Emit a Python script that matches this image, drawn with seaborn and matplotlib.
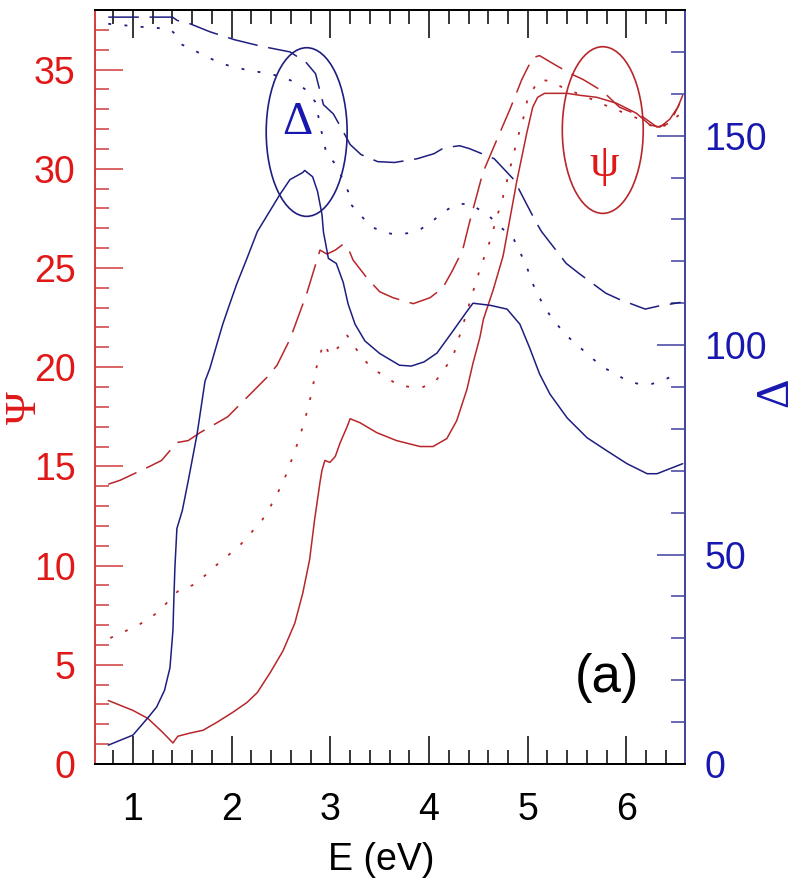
import matplotlib
matplotlib.use("Agg")
import matplotlib.pyplot as plt
from matplotlib.patches import Ellipse
from matplotlib.ticker import MultipleLocator
import seaborn as sns

# ---------------- data ----------------
# Psi (left axis, red)
psi_solid_x = [0.75, 1.0, 1.15, 1.3, 1.405, 1.455, 1.58, 1.71, 1.85, 2.01, 2.155, 2.26, 2.39, 2.52,
               2.64, 2.72, 2.79, 2.84, 2.895, 2.915, 2.945, 2.995, 3.05, 3.1, 3.17, 3.2, 3.3, 3.47,
               3.67, 3.91, 4.04, 4.18, 4.28, 4.385, 4.445, 4.515, 4.55, 4.65, 4.75, 4.89, 4.99, 5.05,
               5.1, 5.17, 5.4, 5.53, 5.7, 5.9, 6.1, 6.24, 6.34, 6.44, 6.52, 6.57]
psi_solid_y = [3.2, 2.7, 2.3, 1.6, 1.06, 1.4, 1.56, 1.7, 2.1, 2.6, 3.1, 3.6, 4.6, 5.7,
               7.1, 8.6, 10.3, 12.3, 14.2, 14.8, 15.3, 15.2, 15.5, 16.2, 17.0, 17.4, 17.2, 16.7,
               16.3, 16.0, 16.0, 16.4, 17.3, 18.9, 20.2, 21.5, 22.4, 23.9, 25.6, 29.4, 31.8, 33.1,
               33.6, 33.8, 33.8, 33.7, 33.6, 33.3, 32.8, 32.2, 32.1, 32.5, 33.1, 33.7]

psi_dash_x = [0.75, 0.87, 1.17, 1.29, 1.445, 1.56, 1.68, 1.96, 2.08, 2.36, 2.46, 2.59, 2.76, 2.895,
              2.965, 3.05, 3.13, 3.18, 3.23, 3.37, 3.5, 3.635, 3.84, 4.01, 4.14, 4.24, 4.34, 4.41,
              4.545, 4.69, 4.82, 4.94, 5.05, 5.12, 5.29, 5.43, 5.56, 5.76, 5.93, 6.17, 6.31, 6.44, 6.54]
psi_dash_y = [14.1, 14.3, 15.0, 15.3, 16.2, 16.3, 16.7, 17.5, 18.1, 19.5, 20.1, 21.4, 23.7, 25.9,
              25.7, 25.9, 26.2, 26.0, 25.4, 24.5, 23.8, 23.5, 23.2, 23.5, 24.0, 24.9, 25.9, 27.3,
              29.8, 31.5, 33.0, 34.5, 35.6, 35.7, 35.2, 34.8, 34.5, 33.9, 33.1, 32.6, 32.1, 32.3, 33.3]

psi_dot_x = [0.77, 0.9, 1.04, 1.15, 1.27, 1.39, 1.475, 1.6, 1.73, 1.84, 1.96, 2.08, 2.205, 2.31,
             2.39, 2.46, 2.52, 2.57, 2.67, 2.74, 2.81, 2.86, 2.93, 3.0, 3.1, 3.17, 3.25, 3.32,
             3.43, 3.57, 3.68, 3.81, 3.94, 4.06, 4.24, 4.33, 4.445, 4.52, 4.62, 4.69, 4.75, 4.8,
             4.85, 4.9, 4.97, 5.0, 5.12, 5.24, 5.35, 5.5, 5.7, 5.83, 6.04, 6.17, 6.31, 6.44, 6.55]
psi_dot_y = [6.35, 6.65, 6.95, 7.3, 7.7, 8.4, 8.8, 9.0, 9.5, 10.0, 10.5, 11.0, 11.7, 12.3,
             12.95, 13.6, 14.2, 14.8, 16.2, 17.3, 18.7, 20.0, 21.2, 20.6, 21.1, 21.6, 21.0, 20.5,
             19.9, 19.5, 19.1, 19.0, 19.0, 19.25, 20.5, 21.9, 23.8, 25.0, 26.4, 27.6, 28.6, 29.6,
             30.6, 31.6, 32.8, 33.6, 34.5, 34.4, 34.1, 33.8, 33.4, 33.1, 32.7, 32.4, 32.0, 32.3, 32.8]

# Delta (right axis, blue)
delta_solid_x = [0.75, 1.0, 1.15, 1.24, 1.32, 1.375, 1.405, 1.415, 1.425, 1.445, 1.5, 1.56, 1.65,
                 1.73, 1.78, 1.85, 1.91, 1.98, 2.05, 2.155, 2.26, 2.49, 2.59, 2.72, 2.74, 2.82,
                 2.87, 2.915, 2.93, 2.98, 3.06, 3.13, 3.18, 3.25, 3.35, 3.5, 3.7, 3.82, 3.95, 4.08,
                 4.24, 4.385, 4.445, 4.62, 4.79, 4.92, 5.02, 5.12, 5.225, 5.4, 5.6, 5.8, 6.005,
                 6.21, 6.31, 6.44, 6.57]
delta_solid_y = [4.5, 6.9, 11, 13.6, 17.6, 23, 31.9, 39.8, 46.9, 56.2, 60.5, 67.6, 78.8,
                 91.4, 94.5, 100.2, 105, 109.8, 114.5, 120.7, 127.1, 136, 139.5, 141.2, 141.7, 140.2,
                 136.7, 131.2, 127, 120.7, 119.5, 115, 109.8, 105, 101, 98, 95.2, 95, 96, 98.1,
                 103.3, 108.1, 110, 109.5, 108.6, 105, 99.3, 93.1, 88.3, 82.6, 77.9, 74.8, 71.7,
                 69.3, 69.3, 70.5, 71.7]

delta_dash_x = [0.75, 1.4, 1.45, 1.58, 1.78, 2.03, 2.29, 2.59, 2.75, 2.85, 2.93, 3.03, 3.13, 3.2,
                3.31, 3.48, 3.65, 3.88, 4.05, 4.15, 4.31, 4.41, 4.66, 4.86, 5.08, 5.14, 5.39, 5.52,
                5.79, 5.92, 6.19, 6.32, 6.55]
delta_dash_y = [178.3, 178.3, 177.5, 176.7, 174.8, 172.9, 171.4, 170, 167.6, 164.8, 157.4, 155.2,
                151, 147.9, 145.5, 143.8, 143.6, 144.5, 145.7, 147.1, 147.6, 146.9, 144.5, 139.5,
                129.5, 127.1, 119.5, 117.1, 112.4, 111, 108.6, 109.3, 110.2]

delta_dot_x = [0.75, 1.07, 1.37, 1.44, 1.5, 1.65, 1.75, 1.91, 2.15, 2.38, 2.51, 2.63, 2.75, 2.85,
               2.9, 2.93, 2.96, 3.06, 3.18, 3.2, 3.3, 3.41, 3.55, 3.66, 3.78, 3.91, 4.03, 4.15,
               4.28, 4.41, 4.6, 4.86, 4.98, 5.08, 5.15, 5.23, 5.33, 5.45, 5.55, 5.66, 5.78, 5.9,
               6.01, 6.13, 6.25, 6.36, 6.46, 6.55]
delta_dot_y = [176.7, 176, 175.5, 174, 171.7, 170, 168.8, 167.1, 165.7, 164.8, 164, 162.9, 161, 158,
               152, 149, 145.7, 143, 136.7, 133.8, 131.2, 128.3, 126.9, 126.4, 126.7, 127.6, 129.5,
               131.9, 133.6, 133.8, 131, 125.2, 119.3, 112.9, 110, 106.9, 104, 101, 99, 96.7, 94.5,
               93, 91.4, 90.7, 90.7, 91.4, 92.6, 93]

x_ticks = [1, 2, 3, 4, 5, 6]
psi_ticks = [0, 5, 10, 15, 20, 25, 30, 35]
delta_ticks = [0, 50, 100, 150]

# ---------------- styling ----------------
sns.set_style("ticks")
plt.rcParams["font.family"] = ["Liberation Sans", "DejaVu Sans"]

RED_LINE = "#b8262a"
BLUE_LINE = "#1e1e80"
RED_TXT = "#e01818"
BLUE_TXT = "#1818b0"
RED_SPINE = "#d23c3c"
BLUE_SPINE = "#4040a0"

DASH = (0, (20, 7))
DOT = (0, (1.6, 7.4))

fig = plt.figure(figsize=(7.98, 8.86), dpi=100)
ax = fig.add_axes([0.119, 0.1377, 0.739, 0.851])
ax2 = ax.twinx()

# Psi curves
sns.lineplot(x=psi_solid_x, y=psi_solid_y, ax=ax, color=RED_LINE, lw=1.1, linestyle="-")
sns.lineplot(x=psi_dash_x, y=psi_dash_y, ax=ax, color=RED_LINE, lw=1.1, linestyle=DASH)
sns.lineplot(x=psi_dot_x, y=psi_dot_y, ax=ax, color=RED_LINE, lw=1.3, linestyle=DOT)
# Delta curves
sns.lineplot(x=delta_solid_x, y=delta_solid_y, ax=ax2, color=BLUE_LINE, lw=1.1, linestyle="-")
sns.lineplot(x=delta_dash_x, y=delta_dash_y, ax=ax2, color=BLUE_LINE, lw=1.1, linestyle=DASH)
sns.lineplot(x=delta_dot_x, y=delta_dot_y, ax=ax2, color=BLUE_LINE, lw=1.3, linestyle=DOT)

ax.set_xlim(0.615, 6.59)
ax.set_ylim(0, 38)
ax2.set_ylim(0, 180)

ax.set_xticks(x_ticks)
ax.set_yticks(psi_ticks)
ax2.set_yticks(delta_ticks)
ax.xaxis.set_minor_locator(MultipleLocator(0.2))
ax.yaxis.set_minor_locator(MultipleLocator(1))
ax2.yaxis.set_minor_locator(MultipleLocator(10))

FS = 27
ax.tick_params(axis="x", which="both", direction="in", top=True, bottom=True,
               colors="black", labelsize=FS, pad=20, width=1.1)
ax.tick_params(axis="x", which="major", length=20)
ax.tick_params(axis="x", which="minor", length=10)
ax.tick_params(axis="y", which="both", direction="in", left=True, right=False,
               color=RED_SPINE, labelcolor=RED_TXT, labelsize=FS, pad=14, width=1.1)
ax.tick_params(axis="y", which="major", length=20)
ax.tick_params(axis="y", which="minor", length=10)
ax2.tick_params(axis="y", which="both", direction="in", left=False, right=True,
                color=BLUE_SPINE, labelcolor=BLUE_TXT, labelsize=FS, pad=14, width=1.1)
ax2.tick_params(axis="y", which="major", length=20)
ax2.tick_params(axis="y", which="minor", length=10)

for a in (ax, ax2):
    for s in a.spines.values():
        s.set_linewidth(1.4)
    a.spines["top"].set_color("black")
    a.spines["bottom"].set_color("black")
ax.spines["left"].set_color(RED_SPINE)
ax.spines["right"].set_visible(False)
ax2.spines["left"].set_visible(False)
ax2.spines["right"].set_color(BLUE_SPINE)

# axis labels
ax.set_xlabel("E (eV)", fontsize=FS, color="black")
ax.xaxis.label.set_verticalalignment("center")
ax.xaxis.set_label_coords(0.485, -0.127)

ax.set_ylabel("Ψ", fontsize=32, color=RED_TXT, family=["Liberation Serif", "DejaVu Serif"])
ax.yaxis.label.set_verticalalignment("center")
ax.yaxis.set_label_coords(-0.119, 0.472)

ax2.set_ylabel("Δ", fontsize=33, color=BLUE_TXT, family=["Liberation Serif", "DejaVu Serif"],
               rotation=90)
ax2.yaxis.label.set_verticalalignment("center")
ax2.yaxis.set_label_coords(1.154, 0.493)

# annotations
ax.add_patch(Ellipse((2.76, 31.85), 0.82, 8.5, fill=False, edgecolor=BLUE_LINE, lw=1.2))
ax.add_patch(Ellipse((5.76, 31.95), 0.82, 8.4, fill=False, edgecolor=RED_LINE, lw=1.2))
ax.text(2.67, 32.3, "Δ", color=BLUE_TXT, fontsize=34, ha="center", va="center",
        family=["Liberation Serif", "DejaVu Serif"])
ax.text(5.77, 30.2, "ψ", color=RED_TXT, fontsize=34, ha="center", va="center",
        family=["Liberation Serif", "DejaVu Serif"])
ax.text(5.8, 4.33, "(a)", color="black", fontsize=38, ha="center", va="center")

fig.savefig("out.png", dpi=100, facecolor="white")
